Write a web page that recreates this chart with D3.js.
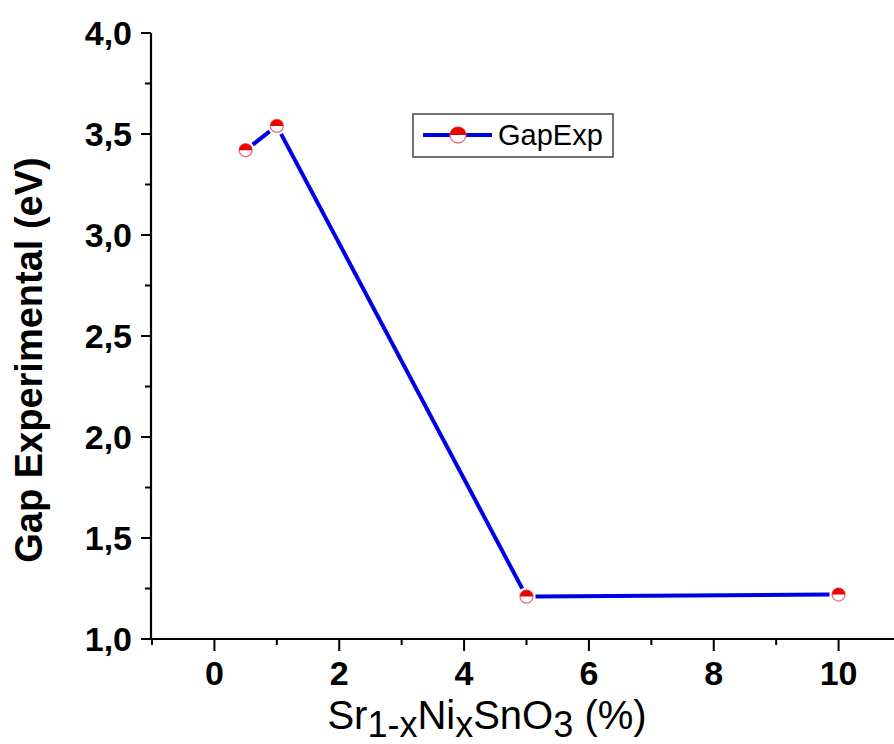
<!DOCTYPE html>
<html><head><meta charset="utf-8">
<script src="https://cdn.jsdelivr.net/npm/d3@7"></script>
<style>body{margin:0;background:#fff}svg{display:block}text{font-family:"Liberation Sans",Arial,sans-serif}</style>
</head><body>
<svg id="c" width="894" height="744"></svg>
<script>
const xValues = [0.5, 1, 5, 10];
const gapValues = [3.42, 3.54, 1.21, 1.22];
const xTickValues = [0, 2, 4, 6, 8, 10];
const yTickValues = [1.0, 1.5, 2.0, 2.5, 3.0, 3.5, 4.0];
const seriesName = "GapExp";

const svg = d3.select("#c");
const x = d3.scaleLinear().domain([-1, 11]).range([152, 901]);
const y = d3.scaleLinear().domain([1, 4]).range([639, 33]);
const fmt = d => d3.format(".1f")(d).replace(".", ",");

// X axis
const xAxis = svg.append("g").attr("transform", "translate(0,639)");
xAxis.append("line").attr("x1", 151).attr("x2", 894).attr("stroke", "#000").attr("stroke-width", 2.2);
const xMinor = d3.range(-1, 12, 1).filter(v => v % 2 !== 0);
xAxis.selectAll(".xmin").data(xMinor).join("line")
  .attr("x1", d => x(d)).attr("x2", d => x(d)).attr("y1", 0).attr("y2", 6)
  .attr("stroke", "#000").attr("stroke-width", 2);
xAxis.selectAll(".xmaj").data(xTickValues).join("line")
  .attr("x1", d => x(d)).attr("x2", d => x(d)).attr("y1", 0).attr("y2", 12)
  .attr("stroke", "#000").attr("stroke-width", 2);
xAxis.selectAll(".xlab").data(xTickValues).join("text")
  .attr("x", d => x(d)).attr("y", 46).attr("text-anchor", "middle")
  .attr("font-size", 34).attr("font-weight", "bold").text(d => d);

// Y axis
const yAxis = svg.append("g").attr("transform", "translate(151,0)");
yAxis.append("line").attr("y1", 640).attr("y2", y(4)).attr("stroke", "#000").attr("stroke-width", 2.2);
const yMinor = d3.range(1.25, 4, 0.5);
yAxis.selectAll(".ymin").data(yMinor).join("line")
  .attr("y1", d => y(d)).attr("y2", d => y(d)).attr("x1", 0).attr("x2", -6)
  .attr("stroke", "#000").attr("stroke-width", 2);
yAxis.selectAll(".ymaj").data(yTickValues).join("line")
  .attr("y1", d => y(d)).attr("y2", d => y(d)).attr("x1", 0).attr("x2", -10)
  .attr("stroke", "#000").attr("stroke-width", 2);
yAxis.selectAll(".ylab").data(yTickValues).join("text")
  .attr("x", -19).attr("y", d => y(d) + 12).attr("text-anchor", "end")
  .attr("font-size", 34).attr("font-weight", "bold").text(fmt);

// Axis titles
svg.append("text").attr("transform", "translate(42,360) rotate(-90)")
  .attr("text-anchor", "middle").attr("font-size", 38).attr("font-weight", "bold")
  .text("Gap Experimental (eV)");
const xt = svg.append("text").attr("x", 487).attr("y", 729).attr("text-anchor", "middle").attr("font-size", 40);
xt.append("tspan").text("Sr");
xt.append("tspan").attr("dy", 8).attr("font-size", 36).text("1-x");
xt.append("tspan").attr("dy", -8).text("Ni");
xt.append("tspan").attr("dy", 8).attr("font-size", 36).text("x");
xt.append("tspan").attr("dy", -8).text("SnO");
xt.append("tspan").attr("dy", 8).attr("font-size", 36).text("3");
xt.append("tspan").attr("dy", -8).text(" (%)");

// Line with gaps at markers
const pts = xValues.map((v, i) => [x(v), y(gapValues[i])]);
const gap = 9;
const segs = d3.pairs(pts).map(([a, b]) => {
  const dx = b[0] - a[0], dy = b[1] - a[1], L = Math.hypot(dx, dy);
  return [a[0] + dx / L * gap, a[1] + dy / L * gap, b[0] - dx / L * gap, b[1] - dy / L * gap];
});
svg.selectAll(".seg").data(segs).join("line")
  .attr("x1", d => d[0]).attr("y1", d => d[1]).attr("x2", d => d[2]).attr("y2", d => d[3])
  .attr("stroke", "#0000e6").attr("stroke-width", 4);

const topArc = d3.arc().innerRadius(0).outerRadius(6.5).startAngle(-Math.PI / 2).endAngle(Math.PI / 2);
function marker(g) {
  g.append("circle").attr("r", 6.5).attr("fill", "#fff").attr("stroke", "#e87070").attr("stroke-width", 1.3);
  g.append("path").attr("d", topArc()).attr("fill", "#ee0000");
}
svg.selectAll(".mk").data(pts).join("g").attr("transform", d => `translate(${d[0]},${d[1]})`).each(function () { marker(d3.select(this)); });

// Legend
const lg = svg.append("g");
lg.append("rect").attr("x", 413).attr("y", 114).attr("width", 200).attr("height", 43)
  .attr("fill", "#fff").attr("stroke", "#444").attr("stroke-width", 1.5);
lg.append("line").attr("x1", 423).attr("x2", 492).attr("y1", 135).attr("y2", 135).attr("stroke", "#0000e6").attr("stroke-width", 4);
const lm = lg.append("g").attr("transform", "translate(458,135)");
lm.append("circle").attr("r", 8).attr("fill", "#fff").attr("stroke", "#e87070").attr("stroke-width", 1.3);
lm.append("path").attr("d", d3.arc().innerRadius(0).outerRadius(8).startAngle(-Math.PI / 2).endAngle(Math.PI / 2)()).attr("fill", "#ee0000");
lg.append("text").attr("x", 498).attr("y", 145).attr("font-size", 29).text(seriesName);
</script>
</body></html>
